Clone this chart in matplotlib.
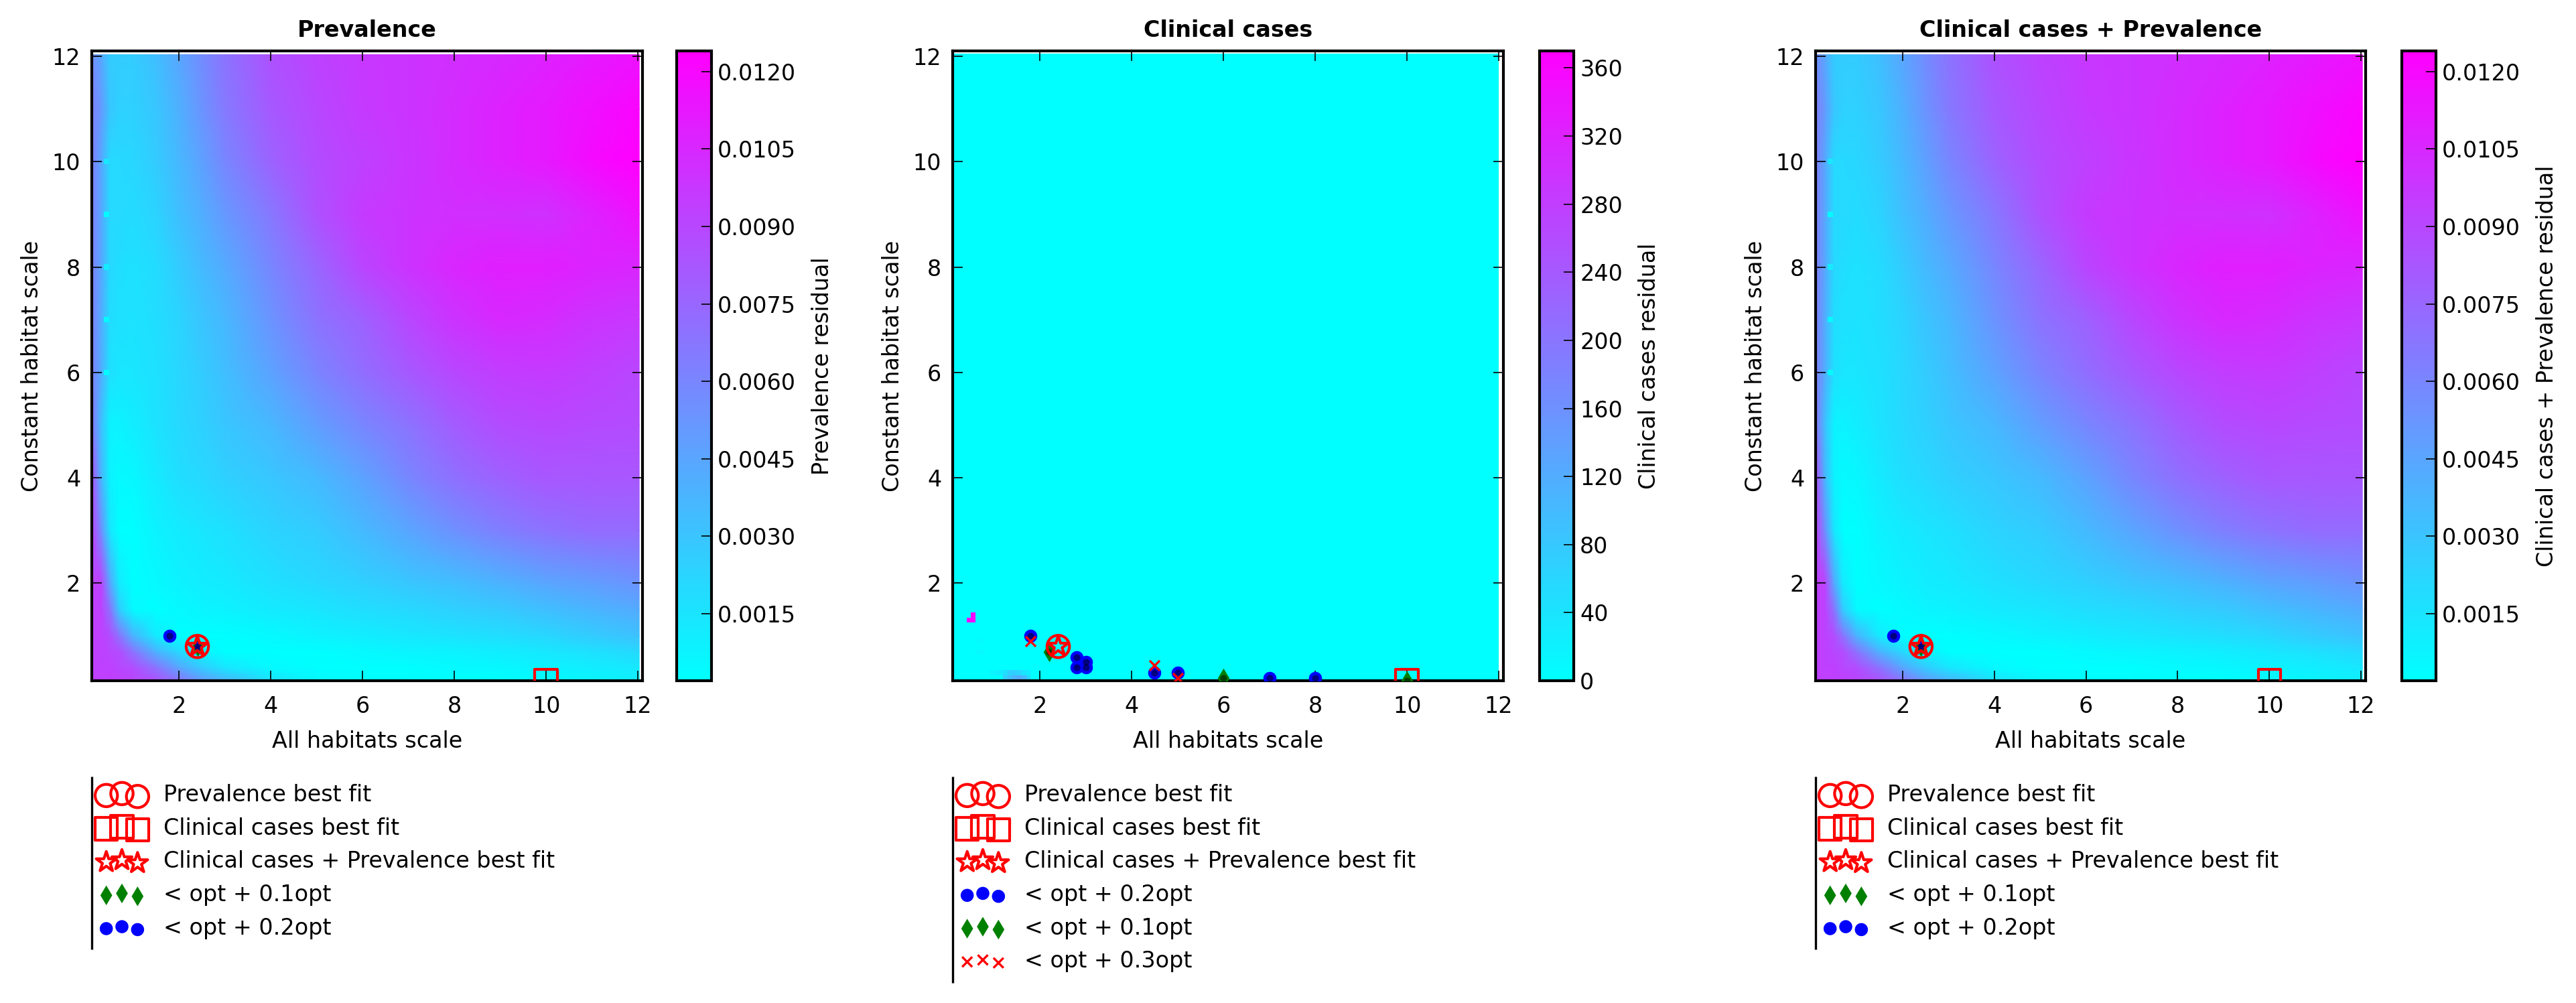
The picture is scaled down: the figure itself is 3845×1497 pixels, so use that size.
import numpy as np
import matplotlib
matplotlib.use("Agg")
import matplotlib.pyplot as plt
from matplotlib.colors import Normalize

W, H, DPI = 3845, 1497, 300
plt.rcParams.update({"font.family": "DejaVu Sans", "font.size": 8, "axes.linewidth": 1.0})

grid_x = [0.1, 0.3, 0.5, 0.7, 1, 1.5, 2, 2.5, 3, 4, 5, 6, 7, 8, 9, 10, 11, 12.03]
grid_y = [0.15, 0.4, 0.7, 1, 1.5, 2, 3, 4, 5, 6, 7, 8, 9, 10, 11, 12.03]
# Position along the colour bar (0 bottom, 1 top) read per grid node, lowest row first
prev_levels = [
    [.75, .75, .75, .75, .73, .68, .55, .40, .30, .12, .03, .00, .00, .00, .00, .02, .04, .06],
    [.75, .75, .75, .72, .70, .55, .35, .20, .10, .02, .00, .00, .00, .02, .03, .05, .07, .09],
    [.75, .75, .72, .70, .55, .30, .15, .05, .00, .00, .00, .02, .04, .05, .07, .09, .12, .15],
    [.75, .75, .70, .55, .30, .08, .00, .00, .00, .02, .05, .07, .09, .11, .13, .16, .20, .24],
    [.75, .75, .55, .20, .02, .00, .02, .04, .05, .08, .10, .13, .15, .18, .21, .25, .29, .33],
    [.75, .75, .35, .08, .00, .02, .05, .07, .08, .12, .15, .18, .22, .25, .30, .35, .38, .42],
    [.75, .45, .10, .00, .00, .05, .08, .10, .12, .17, .20, .27, .35, .43, .50, .55, .58, .58],
    [.70, .30, .05, .02, .03, .08, .13, .15, .18, .22, .27, .36, .47, .56, .62, .66, .66, .66],
    [.55, .25, .05, .05, .07, .11, .15, .18, .22, .28, .38, .47, .55, .64, .70, .72, .71, .70],
    [.50, .33, .12, .10, .10, .12, .16, .20, .25, .36, .48, .57, .65, .72, .76, .77, .75, .72],
    [.50, .33, .13, .12, .11, .13, .17, .23, .28, .42, .55, .62, .72, .80, .84, .83, .80, .78],
    [.50, .35, .15, .13, .12, .14, .20, .27, .33, .47, .60, .73, .80, .85, .88, .88, .86, .85],
    [.50, .35, .15, .15, .14, .17, .25, .32, .40, .53, .68, .77, .80, .82, .82, .81, .87, .93],
    [.50, .35, .15, .15, .16, .20, .28, .37, .47, .61, .70, .75, .79, .83, .87, .90, .96, 1.0],
    [.50, .40, .22, .18, .18, .22, .31, .42, .52, .65, .72, .77, .80, .83, .87, .90, .94, .98],
    [.45, .35, .20, .20, .20, .25, .35, .45, .55, .68, .74, .78, .80, .82, .84, .87, .90, .93],
]
# Small cyan spots along the left edge of the prevalence map
spot_x = [0.42, 0.42, 0.42, 0.42, 0.42]
spot_y = [10.0, 9.0, 8.0, 7.0, 6.0]
spot_levels = [0.10, 0.02, 0.08, 0.03, 0.02]

# Clinical cases map: zero except for these 0.1-wide cells (left edge, bottom edge, residual)
clin_cell_x = [0.4, 0.5, 0.5, 1.2, 1.3, 1.4, 1.5, 1.6, 1.7, 1.2, 1.3, 1.4, 1.5, 1.6, 1.7, 0.9, 1.0, 1.1,
               0.6, 0.7, 0.6, 0.7]
clin_cell_y = [1.25, 1.25, 1.35, 0.15, 0.15, 0.15, 0.15, 0.15, 0.15, 0.25, 0.25, 0.25, 0.25, 0.25, 0.25, 0.25, 0.25, 0.25,
               0.65, 0.65, 0.85, 0.85]
clin_cell_v = [365, 365, 365, 70, 90, 110, 120, 100, 60, 50, 70, 70, 60, 40, 30, 15, 20, 30,
               8, 8, 6, 6]

prev_vmin, prev_vmax = 0.0002, 0.0124
clin_vmin, clin_vmax = 0, 370
prev_ticks = [0.0015, 0.0030, 0.0045, 0.0060, 0.0075, 0.0090, 0.0105, 0.0120]
clin_ticks = [0, 40, 80, 120, 160, 200, 240, 280, 320, 360]
axis_ticks = [2, 4, 6, 8, 10, 12]

best_prev = (2.4, 0.8)
best_clin = (10.0, 0.15)
best_both = (2.4, 0.8)

prev_green_x, prev_green_y = [2.4], [0.8]
prev_blue_x, prev_blue_y = [1.8], [1.0]
prev_dark_x, prev_dark_y = [1.8, 2.4], [1.0, 0.8]

clin_blue_x = [1.8, 2.8, 3.0, 2.8, 3.0, 4.5, 5.0, 7.0, 8.0]
clin_blue_y = [1.0, 0.6, 0.5, 0.4, 0.4, 0.3, 0.3, 0.2, 0.2]
clin_green_x = [2.2, 6.0, 10.0]
clin_green_y = [0.7, 0.2, 0.15]
clin_red_x = [1.8, 4.5, 5.0]
clin_red_y = [0.9, 0.44, 0.2]

L_PREV = "Prevalence best fit"
L_CLIN = "Clinical cases best fit"
L_BOTH = "Clinical cases + Prevalence best fit"
L_01, L_02, L_03 = "< opt + 0.1opt", "< opt + 0.2opt", "< opt + 0.3opt"

fig = plt.figure(figsize=(W / DPI, H / DPI), dpi=DPI)


def frac_box(x0, x1, y0, y1):
    return [x0 / W, 1 - y1 / H, (x1 - x0) / W, (y1 - y0) / H]


prev_field = prev_vmin + np.array(prev_levels) * (prev_vmax - prev_vmin)
spot_vals = prev_vmin + np.array(spot_levels) * (prev_vmax - prev_vmin)

clin_edges_x = np.arange(0.1, 12.05, 0.1)
clin_edges_y = np.arange(0.15, 12.1, 0.1)
clin_field = np.zeros((len(clin_edges_y) - 1, len(clin_edges_x) - 1))
for cx, cy, cv in zip(clin_cell_x, clin_cell_y, clin_cell_v):
    clin_field[int(round((cy - 0.15) / 0.1)), int(round((cx - 0.1) / 0.1))] = cv


def style_axes(ax, title):
    ax.set_xlim(0.1, 12.1)
    ax.set_ylim(0.15, 12.1)
    ax.set_xticks(axis_ticks)
    ax.set_yticks([2, 4, 6, 8, 10, 12])
    ax.tick_params(direction="in", length=3.6, width=0.4, top=True, right=True, labelsize=8, pad=4)
    ax.tick_params(axis="x", pad=5.2)
    ax.set_title(title, fontsize=8, fontweight="bold", pad=5)
    ax.set_xlabel("All habitats scale", fontsize=8, labelpad=4.6)
    ax.set_ylabel("Constant habitat scale", fontsize=8, labelpad=3.4)


def best_markers(ax):
    hs = []
    hs.append(ax.scatter(*best_prev, s=64, marker="o", facecolors="none", edgecolors="red", linewidths=1.0, zorder=6))
    hs.append(ax.scatter(*best_clin, s=64, marker="s", facecolors="none", edgecolors="red", linewidths=1.0, zorder=6))
    hs.append(ax.scatter(*best_both, s=58, marker="*", facecolors="none", edgecolors="red", linewidths=1.0, zorder=6))
    return hs


def add_legend(ax, handles, labels, line_bottom):
    leg = ax.legend(handles, labels, loc="upper left", bbox_to_anchor=(0, -0.1515), borderaxespad=0, borderpad=0.35,
                    frameon=False, scatterpoints=3, scatteryoffsets=[0.375, 0.5, 0.3125], handlelength=2.0,
                    handletextpad=0.85, labelspacing=0.5, fontsize=8)
    ax.plot([0, 0], [-0.152, line_bottom], transform=ax.transAxes, color="black", lw=0.8, clip_on=False,
            solid_capstyle="butt")
    return leg


def add_cbar(mappable, box, ticks, fmt, label, labelpad):
    cax = fig.add_axes(frac_box(*box))
    cb = fig.colorbar(mappable, cax=cax, ticks=ticks, format=fmt)
    cb.outline.set_linewidth(1.0)
    cax.tick_params(direction="in", length=3.6, width=0.4, labelsize=8, pad=2.2)
    cb.set_label(label, fontsize=8, labelpad=labelpad)
    return cb


def prevalence_panel(ax_box, cbar_box, title, cbar_label, labelpad):
    ax = fig.add_axes(frac_box(*ax_box))
    norm = Normalize(prev_vmin, prev_vmax)
    mesh = ax.pcolormesh(grid_x, grid_y, prev_field, cmap="cool", norm=norm, shading="gouraud", zorder=1)
    ax.scatter(spot_x, spot_y, c=spot_vals, cmap="cool", norm=norm, s=4, marker="s", linewidths=0, zorder=2)
    style_axes(ax, title)
    green = ax.scatter(prev_green_x, prev_green_y, s=25, marker="d", color="green", linewidths=0, zorder=3)
    blue = ax.scatter(prev_blue_x, prev_blue_y, s=22, marker="o", color="blue", linewidths=0, zorder=3)
    ax.scatter([2.4], [0.8], s=10, marker="d", color="blue", linewidths=0, zorder=4)
    ax.scatter(prev_dark_x, prev_dark_y, s=6, marker="o", color="black", alpha=0.5, linewidths=0, zorder=5)
    ps = best_markers(ax)
    add_legend(ax, ps + [green, blue], [L_PREV, L_CLIN, L_BOTH, L_01, L_02], -0.4266)
    add_cbar(mesh, cbar_box, prev_ticks, "%.4f", cbar_label, labelpad)


prevalence_panel((137, 959, 76, 1016), (1010, 1062, 76, 1016), "Prevalence", "Prevalence residual", 5.5)
prevalence_panel((2710, 3531, 76, 1016), (3585, 3636, 76, 1016), "Clinical cases + Prevalence",
                 "Clinical cases + Prevalence residual", 5.5)

ax2 = fig.add_axes(frac_box(1422, 2244, 76, 1016))
mesh2 = ax2.pcolormesh(clin_edges_x, clin_edges_y, clin_field, cmap="cool", vmin=clin_vmin, vmax=clin_vmax, zorder=1)
style_axes(ax2, "Clinical cases")
blue2 = ax2.scatter(clin_blue_x, clin_blue_y, s=22, marker="o", color="blue", linewidths=0, zorder=3)
green2 = ax2.scatter(clin_green_x, clin_green_y, s=25, marker="d", color="green", linewidths=0, zorder=4)
ax2.scatter(clin_blue_x + clin_green_x, clin_blue_y + clin_green_y, s=6, marker="o", color="black", alpha=0.5,
            linewidths=0, zorder=5)
red2 = ax2.scatter(clin_red_x, clin_red_y, s=13, marker="x", color="red", linewidths=0.8, zorder=5.5)
ps2 = best_markers(ax2)
add_legend(ax2, ps2 + [blue2, green2, red2], [L_PREV, L_CLIN, L_BOTH, L_02, L_01, L_03], -0.48)
add_cbar(mesh2, (2298, 2349, 76, 1016), clin_ticks, "%d", "Clinical cases residual", 5.5)

fig.savefig("out.png", dpi=DPI)
